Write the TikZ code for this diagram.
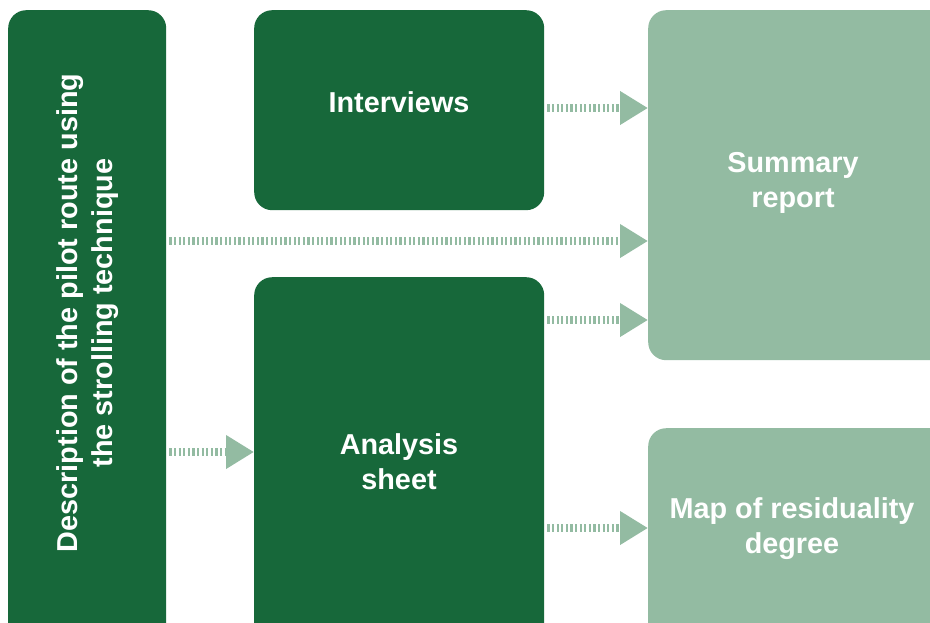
\documentclass[tikz,border=0pt]{standalone}
\usepackage{fontspec}
\setmainfont{Liberation Sans}
\usetikzlibrary{arrows.meta}
\definecolor{darkg}{HTML}{17683A}
\definecolor{lightg}{HTML}{93BBA2}
\tikzset{
  darkbox/.style={fill=darkg, draw=none, rounded corners=18pt, inner sep=0pt},
  lightbox/.style={fill=lightg, draw=none, rounded corners=18pt, inner sep=0pt},
  lbl/.style={text=white, font=\fontsize{28.8}{35}\selectfont\bfseries, align=center, inner sep=0pt},
  flow/.style={draw=lightg, line width=8pt, dash pattern=on 2.2pt off 2.4pt,
    -{Triangle[length=28pt,width=32pt,fill=lightg]}, shorten <=3pt}
}
\begin{document}
\begin{tikzpicture}[x=1pt,y=-1pt]
\useasboundingbox (0,0) rectangle (930,622);
\clip (0,0) rectangle (930,622);
\node[darkbox, minimum width=158pt, minimum height=650pt, anchor=north west] (desc) at (8,10) {};
\node[darkbox, minimum width=290pt, minimum height=200pt, anchor=north west] (int) at (254,10) {};
\node[darkbox, minimum width=290pt, minimum height=380pt, anchor=north west] (ana) at (254,277) {};
\node[lightbox, minimum width=300pt, minimum height=350pt, anchor=north west] (sum) at (648,10) {};
\node[lightbox, minimum width=300pt, minimum height=230pt, anchor=north west] (map) at (648,428) {};
\node[lbl, rotate=90] (desct) at (88,313) {Description of the pilot route using\\the strolling technique};
\node[lbl] (intt) at (399,102) {Interviews};
\node[lbl] (anat) at (399,462) {Analysis\\sheet};
\node[lbl] (sumt) at (793,183) {Summary\\report};
\node[lbl] (mapt) at (792,529) {Map of residuality\\degree};
\draw[flow] (int.east |- 0,108) -- (sum.west |- 0,108);
\draw[flow] (desc.east |- 0,241) -- (sum.west |- 0,241);
\draw[flow] (ana.east |- 0,320) -- (sum.west |- 0,320);
\draw[flow] (desc.east |- 0,452) -- (ana.west |- 0,452);
\draw[flow] (ana.east |- 0,528) -- (map.west |- 0,528);
\end{tikzpicture}
\end{document}
